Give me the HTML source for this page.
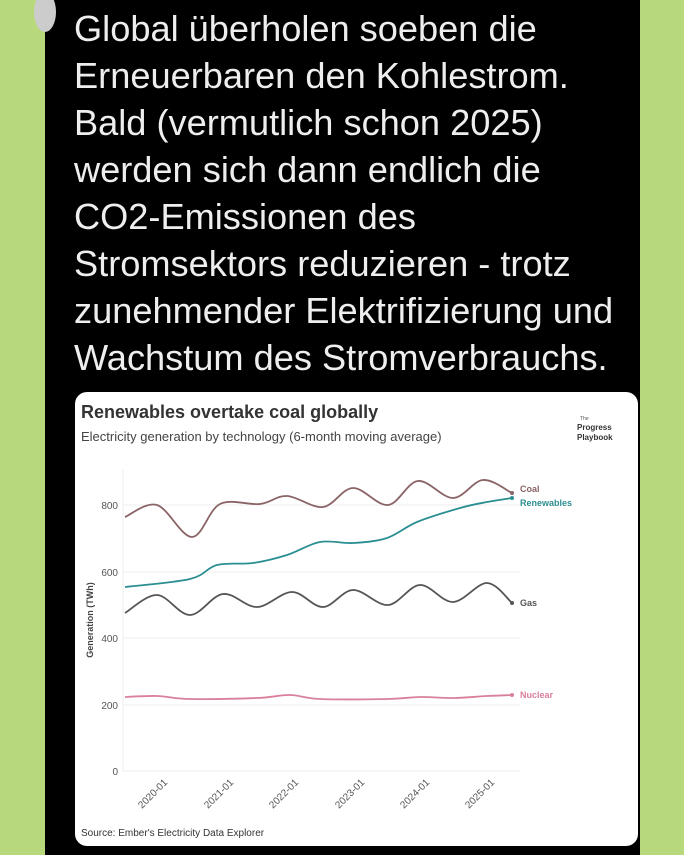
<!DOCTYPE html>
<html><head><meta charset="utf-8"><style>
html,body{margin:0;padding:0;width:684px;height:855px;overflow:hidden;background:#b7d97c;font-family:"Liberation Sans",sans-serif}
#blk{position:absolute;left:45px;top:0;width:595px;height:855px;background:#000}
.t{position:absolute;left:74px;color:#eee;font-size:36.2px;line-height:47px;white-space:nowrap}
#card{position:absolute;left:75px;top:392px;width:563px;height:454px;background:#fff;border-radius:12px}
</style></head><body>
<div id="blk"></div>
<div style="position:absolute;left:34px;top:-8px;width:22px;height:40px;border-radius:50%;background:#ccc"></div>
<div class="t" style="top:5px">Global überholen soeben die<br>Erneuerbaren den Kohlestrom.<br>Bald (vermutlich schon 2025)<br>werden sich dann endlich die<br>CO2-Emissionen des<br>Stromsektors reduzieren - trotz<br>zunehmender Elektrifizierung und<br>Wachstum des Stromverbrauchs.</div>
<div id="card"></div>
<svg width="684" height="855" style="position:absolute;left:0;top:0" font-family="Liberation Sans, sans-serif">
<text x="81" y="418" font-size="18" font-weight="bold" fill="#333">Renewables overtake coal globally</text>
<text x="81" y="441" font-size="13" fill="#444">Electricity generation by technology (6-month moving average)</text>
<text x="580" y="420" font-size="5" fill="#555">The</text>
<text x="577" y="430" font-size="8" font-weight="bold" fill="#333">Progress</text>
<text x="577" y="440" font-size="8" font-weight="bold" fill="#333">Playbook</text>
<g stroke="#eee" stroke-width="1">
<line x1="123" x2="520" y1="505" y2="505"/><line x1="123" x2="520" y1="572" y2="572"/>
<line x1="123" x2="520" y1="638" y2="638"/><line x1="123" x2="520" y1="705" y2="705"/>
<line x1="123" x2="520" y1="771" y2="771"/><line x1="123" x2="123" y1="470" y2="771"/>
</g>
<g font-size="10" fill="#555" text-anchor="end">
<text x="118" y="509">800</text><text x="118" y="576">600</text><text x="118" y="642">400</text><text x="118" y="709">200</text><text x="118" y="775">0</text>
</g>
<text transform="translate(93,620) rotate(-90)" font-size="9" font-weight="bold" fill="#444" text-anchor="middle">Generation (TWh)</text>
<g font-size="10" fill="#555" text-anchor="end">
<text transform="translate(168,783) rotate(-45)">2020-01</text>
<text transform="translate(234,783) rotate(-45)">2021-01</text>
<text transform="translate(299,783) rotate(-45)">2022-01</text>
<text transform="translate(365,783) rotate(-45)">2023-01</text>
<text transform="translate(430,783) rotate(-45)">2024-01</text>
<text transform="translate(495,783) rotate(-45)">2025-01</text>
</g>
<text x="81" y="836" font-size="10" fill="#333">Source: Ember's Electricity Data Explorer</text>
<path id="coal" fill="none" stroke="#8a6466" stroke-width="1.8"/>
<path id="ren" fill="none" stroke="#2b8f92" stroke-width="1.8"/>
<path id="gas" fill="none" stroke="#555" stroke-width="1.8"/>
<path id="nuc" fill="none" stroke="#d9809a" stroke-width="1.8"/>
<circle cx="512" cy="493" r="2" fill="#8a6466"/><circle cx="512" cy="498" r="2" fill="#2b8f92"/>
<circle cx="512" cy="603" r="2" fill="#555"/><circle cx="512" cy="695" r="2" fill="#d9809a"/>
<g font-size="9" font-weight="bold">
<text x="520" y="492" fill="#8a6466">Coal</text>
<text x="520" y="506" fill="#2b8f92">Renewables</text>
<text x="520" y="606" fill="#555">Gas</text>
<text x="520" y="698" fill="#d9809a">Nuclear</text>
</g>
</svg>
<script>
function cr(p){let d="M"+p[0][0]+","+p[0][1];for(let i=0;i<p.length-1;i++){const a=p[i-1]||p[i],b=p[i],c=p[i+1],e=p[i+2]||c;
d+=" C"+(b[0]+(c[0]-a[0])/6)+","+(b[1]+(c[1]-a[1])/6)+" "+(c[0]-(e[0]-b[0])/6)+","+(c[1]-(e[1]-b[1])/6)+" "+c[0]+","+c[1];}return d;}
const S={coal:[[125,517],[157,505],[192,537],[220,504],[260,504],[287,496],[323,507],[353,488],[388,505],[418,481],[453,498],[483,480],[512,493]],
ren:[[125,587],[190,579],[217,565],[253,563],[287,555],[320,542],[353,543],[387,538],[417,522],[460,508],[487,502],[512,498]],
gas:[[125,613],[157,595],[190,615],[223,594],[257,607],[292,592],[323,607],[353,590],[388,605],[420,585],[453,602],[487,583],[512,603]],
nuc:[[125,697],[157,696],[190,699],[257,698],[290,695],[320,699],[388,699],[420,697],[453,698],[487,696],[512,695]]};
for(const k in S)document.getElementById(k).setAttribute("d",cr(S[k]));
</script>
</body></html>
